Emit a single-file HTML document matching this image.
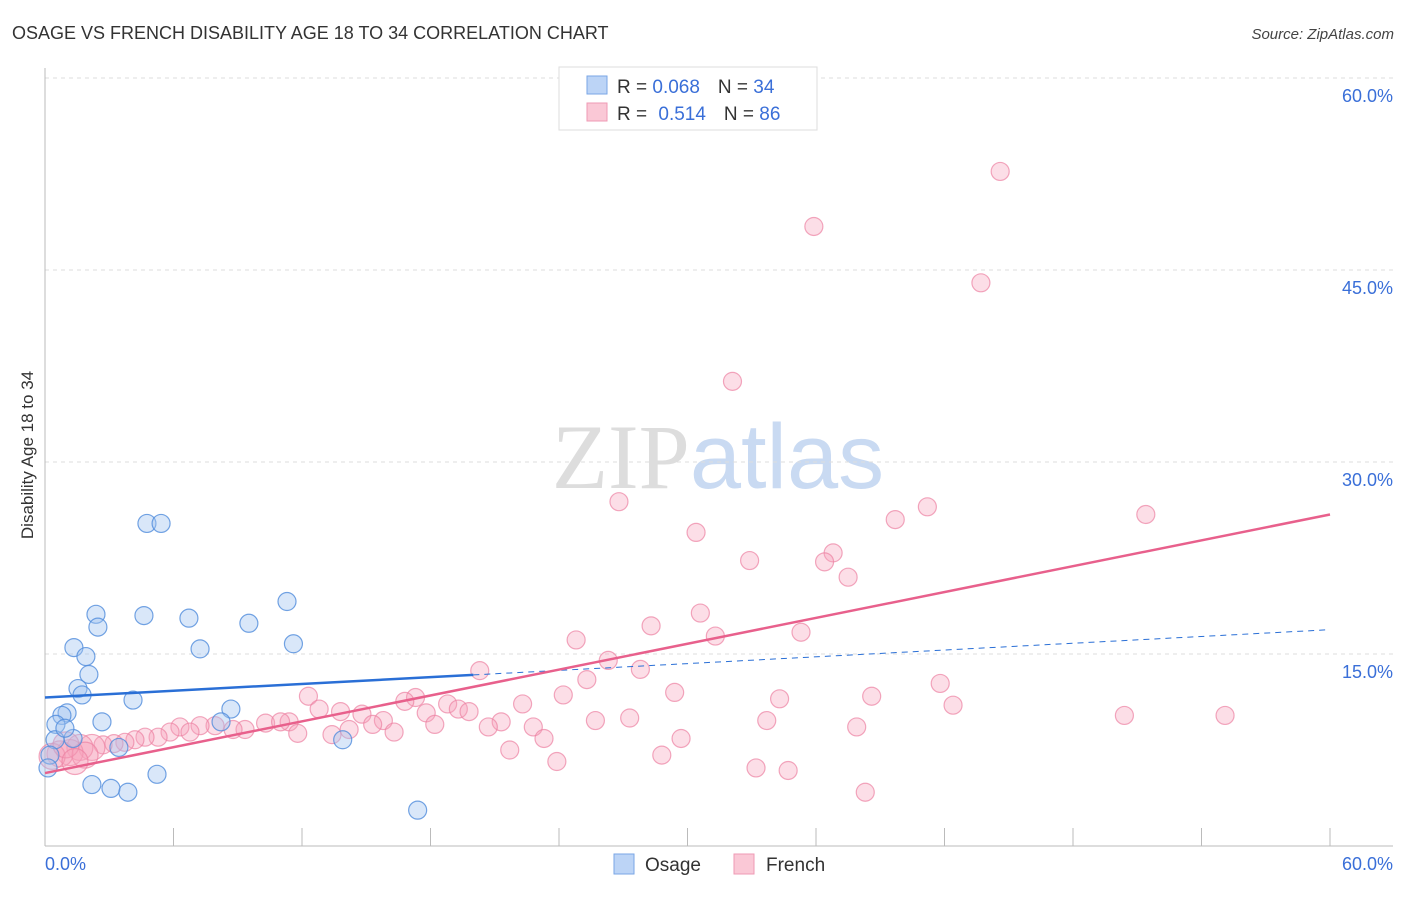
<!DOCTYPE html>
<html><head><meta charset="utf-8"><style>
body{margin:0;background:#fff;font-family:"Liberation Sans",sans-serif;}
svg text{font-family:"Liberation Sans",sans-serif;}
</style></head><body>
<svg id="chart" width="1406" height="892" xmlns="http://www.w3.org/2000/svg">
<text x="12" y="39" font-size="18" fill="#333">OSAGE VS FRENCH DISABILITY AGE 18 TO 34 CORRELATION CHART</text>
<text x="1394" y="39" font-size="15" fill="#444" text-anchor="end" font-style="italic">Source: ZipAtlas.com</text>
<text x="718" y="488" font-size="92" text-anchor="middle"><tspan fill="#ddd" font-family="Liberation Serif">ZIP</tspan><tspan fill="#c9daf2">atlas</tspan></text>
<g id="grid"></g><g id="axes"></g><g id="pts"></g><g id="trends"></g>
<text transform="translate(33,455) rotate(-90)" font-size="17" fill="#333" text-anchor="middle">Disability Age 18 to 34</text>
<g>
<rect x="559" y="67" width="258" height="63" fill="#fff" stroke="#ddd"/>
<rect x="587" y="76" width="20" height="18" fill="#bcd4f6" stroke="#7aa6e6"/>
<rect x="587" y="103" width="20" height="18" fill="#fac8d6" stroke="#ef9ab4"/>
<text x="617" y="93" font-size="19" fill="#333">R = <tspan fill="#3a6fd8">0.068</tspan><tspan dx="18">N = </tspan><tspan fill="#3a6fd8">34</tspan></text>
<text x="617" y="120" font-size="19" fill="#333">R = <tspan dx="6" fill="#3a6fd8">0.514</tspan><tspan dx="18">N = </tspan><tspan fill="#3a6fd8">86</tspan></text>
</g>
<g>
<rect x="614" y="854" width="20" height="20" fill="#bcd4f6" stroke="#7aa6e6"/>
<text x="645" y="871" font-size="19" fill="#333">Osage</text>
<rect x="734" y="854" width="20" height="20" fill="#fac8d6" stroke="#ef9ab4"/>
<text x="766" y="871" font-size="19" fill="#333">French</text>
</g>
</svg>
<script>
const yTicks=[15,30,45,60];
const yTickLabels=["15.0%","30.0%","45.0%","60.0%"];
const xTickLabels=["0.0%","60.0%"];
const osageX=[4.76,5.42,2.38,4.62,6.72,2.47,9.52,11.3,1.35,7.24,11.6,1.91,2.05,1.54,1.73,4.11,1.03,0.79,0.51,2.66,8.68,8.22,1.31,3.45,13.9,0.47,0.23,0.14,5.23,2.19,3.08,3.87,17.4,0.93];
const osageY=[25.2,25.2,18.1,18.0,17.8,17.1,17.4,19.1,15.5,15.4,15.8,14.8,13.4,12.3,11.8,11.4,10.4,10.2,9.5,9.7,10.7,9.7,8.4,7.7,8.3,8.3,7.1,6.1,5.6,4.8,4.5,4.2,2.8,9.2];
const frenchX=[44.6,35.9,43.7,32.1,26.8,30.4,41.2,39.7,51.4,32.9,36.8,36.4,37.5,30.6,28.3,35.3,31.3,24.8,26.3,27.8,20.3,25.3,41.8,29.4,24.2,12.3,38.6,34.3,17.3,16.8,22.3,42.4,18.8,19.3,12.8,19.8,13.8,14.8,17.8,50.4,55.1,27.3,25.7,33.7,15.8,21.3,15.3,11.4,10.3,11.0,20.7,18.2,22.8,37.9,14.2,16.3,9.34,8.78,7.94,7.24,6.3,6.77,5.84,11.8,13.4,23.3,29.7,5.28,4.67,4.2,3.73,3.22,2.71,2.19,21.7,28.8,23.9,33.2,34.7,38.3,1.63,1.17,0.7,0.33,1.87,0.98,1.4];
const frenchY=[52.7,48.4,44.0,36.3,26.9,24.5,26.5,25.5,25.9,22.3,22.9,22.2,21.0,18.2,17.2,16.7,16.4,16.1,14.5,13.8,13.7,13.0,12.7,12.0,11.8,11.7,11.7,11.5,11.6,11.3,11.1,11.0,11.1,10.7,10.7,10.5,10.5,10.3,10.4,10.2,10.2,10.0,9.8,9.8,9.8,9.7,9.5,9.7,9.6,9.7,9.3,9.5,9.3,9.3,9.1,8.9,9.1,9.1,9.4,9.4,9.3,8.9,8.9,8.8,8.7,8.4,8.4,8.5,8.5,8.3,8.1,8.0,7.9,7.7,7.5,7.1,6.6,6.1,5.9,4.2,7.7,7.3,7.2,7.0,7.1,7.9,6.6];
const osageTrend=[11.6,16.9], frenchTrend=[5.7,25.9], osageSolidEnd=20;
const NS="http://www.w3.org/2000/svg";
const sx=v=>45+v*(1285/60), sy=v=>846-v*12.8;
function mk(tag,attrs,parent){const e=document.createElementNS(NS,tag);for(const k in attrs)e.setAttribute(k,attrs[k]);parent.appendChild(e);return e;}
const grid=document.getElementById('grid'),axes=document.getElementById('axes'),pts=document.getElementById('pts'),tr=document.getElementById('trends');
yTicks.forEach((t,i)=>{
 const l=mk('line',{x1:45,x2:1393,y1:sy(t),y2:sy(t),stroke:'#ddd','stroke-dasharray':'4,4'},grid);
 
 
 const tx=mk('text',{x:1393,y:sy(t)+24,'font-size':18,fill:'#3a6fd8','text-anchor':'end'},grid);
 tx.textContent=yTickLabels[i];
 
 
});
let a=mk('line',{x1:45,x2:45,y1:68,y2:846,stroke:'#bbb'},axes);


a=mk('line',{x1:45,x2:1393,y1:846,y2:846,stroke:'#bbb'},axes);


for(let v=6;v<=60;v+=6){const t=mk('line',{x1:sx(v),x2:sx(v),y1:828,y2:846,stroke:'#bbb'},axes);
 
 }
let t0=mk('text',{x:45,y:870,'font-size':18,fill:'#3a6fd8'},axes);t0.textContent=xTickLabels[0];


t0=mk('text',{x:1393,y:870,'font-size':18,fill:'#3a6fd8','text-anchor':'end'},axes);t0.textContent=xTickLabels[1];


frenchX.forEach((x,i)=>{const r=(x<2.5)?13:9;
 const c=mk('circle',{cx:sx(x),cy:sy(frenchY[i]),r:r,fill:'rgba(246,160,186,0.35)',stroke:'rgba(236,130,162,0.7)','stroke-width':1.2},pts);
 
 });
osageX.forEach((x,i)=>{
 const c=mk('circle',{cx:sx(x),cy:sy(osageY[i]),r:9,fill:'rgba(160,196,240,0.4)',stroke:'rgba(80,140,220,0.8)','stroke-width':1.2},pts);
 
 });
const oy=x=>osageTrend[0]+(osageTrend[1]-osageTrend[0])*x/60;
let l=mk('line',{x1:sx(0),y1:sy(oy(0)),x2:sx(osageSolidEnd),y2:sy(oy(osageSolidEnd)),stroke:'#2a6fd6','stroke-width':2.5},tr);


l=mk('line',{x1:sx(osageSolidEnd),y1:sy(oy(osageSolidEnd)),x2:sx(60),y2:sy(oy(60)),stroke:'#2a6fd6','stroke-width':1,'stroke-dasharray':'6,5'},tr);


l=mk('line',{x1:sx(0),y1:sy(frenchTrend[0]),x2:sx(60),y2:sy(frenchTrend[1]),stroke:'#e8608c','stroke-width':2.5},tr);


</script>
</body></html>
